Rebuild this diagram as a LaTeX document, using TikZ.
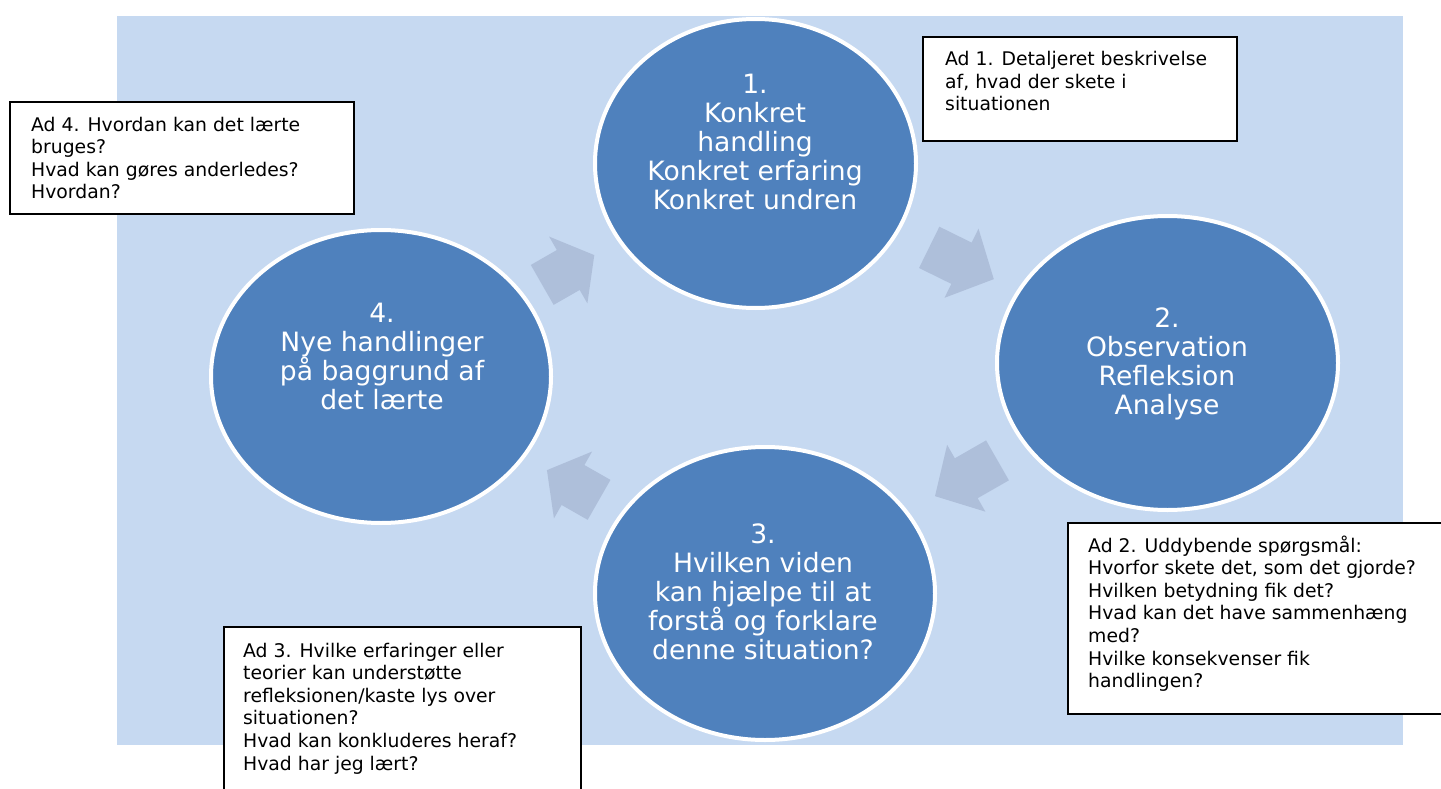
\documentclass[tikz,border=0pt]{standalone}
\usepackage{fontspec}
\setmainfont{DejaVu Sans}
\usetikzlibrary{shapes.geometric,calc}
\definecolor{bgblue}{HTML}{C6D9F1}
\definecolor{circblue}{HTML}{4F81BD}
\definecolor{arrblue}{HTML}{AEBFDA}
\tikzset{
  stage/.style={ellipse, fill=circblue, draw=white, line width=4pt, inner sep=0pt},
  stagetext/.style={text=white, align=center, font=\fontsize{26.6}{29}\selectfont, inner sep=0pt, anchor=base},
  notebox/.style={draw=black, fill=white, line width=1.8pt, inner sep=0pt, anchor=north west},
  notetext/.style={text=black, align=left, font=\fontsize{18.8}{22.6}\selectfont, inner sep=0pt, anchor=base west},
  pics/blockarrow/.style={code={
    \fill[arrblue] (-#1,-23) -- (0,-23) -- (0,-38.5) -- (#1,0) -- (0,38.5) -- (0,23) -- (-#1,23) -- cycle;}}
}
\begin{document}
\begin{tikzpicture}[x=1pt,y=-1pt]
\useasboundingbox (0,0) rectangle (1441,789);
\clip (0,0) rectangle (1441,789);
\fill[bgblue] (117,16) rectangle (1403,745);

% stages
\node[stage, minimum width=321, minimum height=289] (c1) at (755.5,163.5) {};
\node[stage, minimum width=341, minimum height=294] (c2) at (1167.5,363) {};
\node[stage, minimum width=340, minimum height=293] (c3) at (765,593.5) {};
\node[stage, minimum width=340, minimum height=293] (c4) at (381,376.5) {};

% texts (anchored at the baseline of their last line)
\node[stagetext] (t1) at (755,209) {1.\\Konkret\\handling\\Konkret erfaring\\Konkret undren};
\node[stagetext] (t2) at (1167,414) {2.\\Observation\\Refleksion\\Analyse};
\node[stagetext] (t3) at (763,659.5) {3.\\Hvilken viden\\kan hjælpe til at\\forstå og forklare\\denne situation?};
\node[stagetext] (t4) at (382,409) {4.\\Nye handlinger\\på baggrund af\\det lærte};

% cycle arrows
\pic[rotate=-26.2] (a12) at ($(c1)!0.5!(c2)$) {blockarrow=36};
\pic[rotate=-150.2] (a23) at ($(c2)!0.5!(c3)$) {blockarrow=36};
\pic[rotate=150.3] (a34) at ($(c3)!0.5!(c4)$) {blockarrow=30};
\pic[rotate=29.8] (a41) at ($(c4)!0.5!(c1)$) {blockarrow=30};

% note boxes
\node[notebox, minimum width=314, minimum height=104] (b1) at (922,36) {};
\node[notetext] (n1) at (945,110.7) {Ad 1. Detaljeret beskrivelse\\af, hvad der skete i\\situationen};

\node[notebox, minimum width=344, minimum height=112] (b4) at (9,101) {};
\node[notetext] (n4) at (31,198.8) {Ad 4. Hvordan kan det lærte\\bruges?\\Hvad kan gøres anderledes?\\Hvordan?};

\node[notebox, minimum width=400, minimum height=191] (b2) at (1067,522) {};
\node[notetext] (n2) at (1088,687.6) {Ad 2. Uddybende spørgsmål:\\Hvorfor skete det, som det gjorde?\\Hvilken betydning fik det?\\Hvad kan det have sammenhæng\\med?\\Hvilke konsekvenser fik\\handlingen?};

\node[notebox, minimum width=357, minimum height=200] (b3) at (223,626) {};
\node[notetext] (n3) at (243,770) {Ad 3. Hvilke erfaringer eller\\teorier kan understøtte\\refleksionen/kaste lys over\\situationen?\\Hvad kan konkluderes heraf?\\Hvad har jeg lært?};
\end{tikzpicture}
\end{document}
